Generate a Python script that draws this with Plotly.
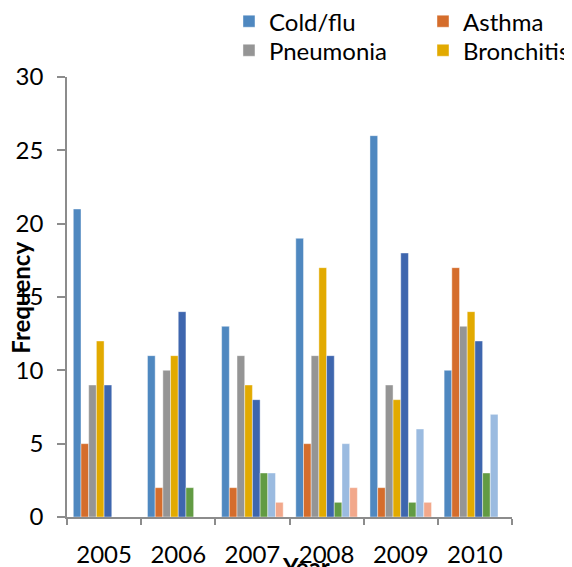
import plotly.graph_objects as go

years = ["2005", "2006", "2007", "2008", "2009", "2010"]

cold_flu   = [21, 11, 13, 19, 26, 10]
asthma     = [5, 2, 2, 5, 2, 17]
pneumonia  = [9, 10, 11, 11, 9, 13]
bronchitis = [12, 11, 9, 17, 8, 14]
series5    = [9, 14, 8, 11, 18, 12]
series6    = [0, 2, 3, 1, 1, 3]
series7    = [0, 0, 3, 5, 6, 7]
series8    = [0, 0, 1, 2, 1, 0]

# (name, values, colour, legend id or None)
series = [
    ("Cold/flu", cold_flu, "#4F88C0", "legend"),
    ("Asthma", asthma, "#D56D2C", "legend2"),
    ("Pneumonia", pneumonia, "#959595", "legend3"),
    ("Bronchitis", bronchitis, "#E2AA00", "legend4"),
    ("Series 5", series5, "#3E66AE", None),
    ("Series 6", series6, "#629B43", None),
    ("Series 7", series7, "#9BBBE0", None),
    ("Series 8", series8, "#F2A88B", None),
]

FONT = "Lato"
FS = 24

fig = go.Figure()
for name, vals, color, leg in series:
    fig.add_trace(go.Bar(
        x=years, y=vals, name=name,
        showlegend=leg is not None, legend=leg or "legend",
        marker=dict(color=color, line=dict(color="rgba(255,255,255,0.7)", width=0.6)),
    ))

legend_common = dict(
    orientation="v", yanchor="top", xanchor="left",
    font=dict(family=FONT, size=FS, color="black"),
    bgcolor="rgba(0,0,0,0)", tracegroupgap=0,
)

COL1, COL2 = 0.364, 0.800
ROW1, ROW2 = 1.177, 1.111

fig.update_layout(
    width=572, height=567,
    margin=dict(l=59, r=68, t=69, b=58, autoexpand=False),
    paper_bgcolor="white", plot_bgcolor="white",
    barmode="group", bargap=0.17, bargroupgap=0,
    font=dict(family=FONT, size=FS, color="black"),
    legend=dict(x=COL1, y=ROW1, **legend_common),
    legend2=dict(x=COL2, y=ROW1, **legend_common),
    legend3=dict(x=COL1, y=ROW2, **legend_common),
    legend4=dict(x=COL2, y=ROW2, **legend_common),
    xaxis=dict(
        type="category", showgrid=False, showline=True, linecolor="#8C8C8C", linewidth=1.5,
        ticks="outside", tickson="boundaries", ticklen=6, tickcolor="#8C8C8C", tickwidth=1.5,
        ticklabelstandoff=15,
        tickfont=dict(family=FONT, size=FS, color="black"),
    ),
    yaxis=dict(
        range=[0, 30], dtick=5, showgrid=False, showline=True, linecolor="#8C8C8C", linewidth=1.5,
        ticks="outside", ticklen=8, tickcolor="#8C8C8C", tickwidth=1.5,
        ticklabelstandoff=9, zeroline=False,
        tickfont=dict(family=FONT, size=FS, color="black"),
    ),
    annotations=[
        dict(text="<b>Year</b>", x=0.537, y=-0.074, xref="paper", yref="paper",
             xanchor="center", yanchor="top", showarrow=False,
             font=dict(family=FONT, size=24, color="black")),
        dict(text="<b>Frequency</b>", x=-0.105, y=0.499, xref="paper", yref="paper",
             xanchor="center", yanchor="middle", showarrow=False, textangle=-90,
             font=dict(family=FONT, size=24, color="black")),
    ],
)

fig.write_html("out.html")
